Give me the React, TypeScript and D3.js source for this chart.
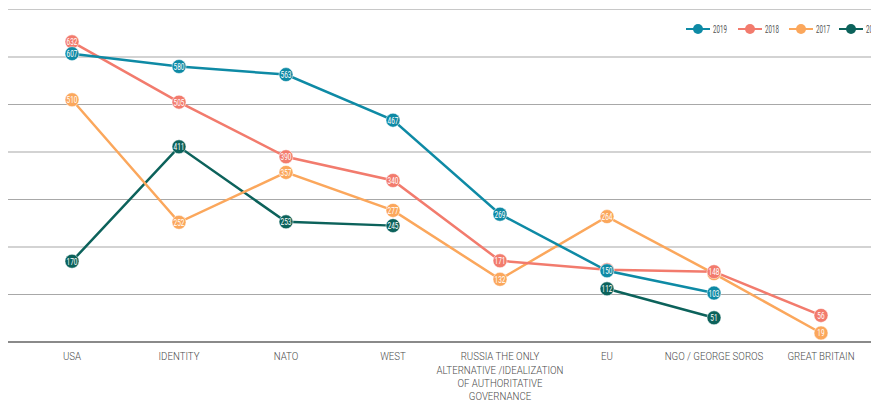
import React from "react";
import * as d3 from "d3";

const categories: string[][] = [
  ["USA"],
  ["IDENTITY"],
  ["NATO"],
  ["WEST"],
  ["RUSSIA THE ONLY", "ALTERNATIVE /IDEALIZATION", "OF AUTHORITATIVE", "GOVERNANCE"],
  ["EU"],
  ["NGO / GEORGE SOROS"],
  ["GREAT BRITAIN"],
];
const catKeys = ["USA", "IDENTITY", "NATO", "WEST", "RUSSIA", "EU", "NGO", "GB"];

const years = ["2019", "2018", "2017", "2016"];
const colors = ["#0e8aa5", "#f27b6d", "#fba75c", "#0c625b"];

const v2019: (number | null)[] = [607, 580, 563, 467, 269, 150, 103, null];
const v2018: (number | null)[] = [632, 505, 390, 340, 171, 152, 148, 56];
const v2017: (number | null)[] = [510, 252, 357, 277, 132, 264, 144, 19];
const v2016: (number | null)[] = [170, 411, 253, 245, null, 112, 51, null];
const seriesValues = [v2019, v2018, v2017, v2016];
const gridTicks = [0, 100, 200, 300, 400, 500, 600, 700];

const W = 871;
const H = 402;
const FONT = "Roboto, 'Liberation Sans', sans-serif";

export default function App() {
  const x = d3.scalePoint<string>().domain(catKeys).range([72, 821]);
  const y = d3.scaleLinear().domain([0, 700]).range([342, 9.5]);

  const drawOrder = [3, 2, 1, 0];

  return (
    <svg
      width={W}
      height={H}
      style={{ position: "absolute", left: 0, top: 0, background: "#fff" }}
      fontFamily={FONT}
    >
      {gridTicks.map((t) => (
        <line
          key={t}
          x1={8}
          x2={W}
          y1={y(t)}
          y2={y(t)}
          stroke={t === 0 ? "#8a8a8a" : t === 700 ? "#c8c8c8" : "#a8a8a8"}
          strokeWidth={t === 0 ? 2 : 1.2}
        />
      ))}

      {categories.map((lines, i) => (
        <g key={catKeys[i]} transform={`translate(${x(catKeys[i])},0) scale(0.88,1)`}>
          <text x={0} y={360.5} textAnchor="middle" fontSize={11} fontWeight={300} fill="#4a4a4a">
            {lines.map((l, j) => (
              <tspan key={j} x={0} dy={j === 0 ? 0 : 13.3}>
                {l}
              </tspan>
            ))}
          </text>
        </g>
      ))}

      {drawOrder.map((si) => {
        const vals = seriesValues[si];
        const line = d3
          .line<number | null>()
          .defined((d) => d !== null)
          .x((_, i) => x(catKeys[i]) as number)
          .y((d) => y(d as number));
        return (
          <path
            key={"l" + si}
            d={line(vals) || ""}
            fill="none"
            stroke={colors[si]}
            strokeWidth={2.5}
          />
        );
      })}

      {drawOrder.map((si) => (
        <g key={"c" + si}>
          {seriesValues[si].map((v, i) =>
            v === null ? null : (
              <g key={i} transform={`translate(${x(catKeys[i])},${y(v)})`}>
                <circle r={7} fill={colors[si]} stroke="#fff" strokeOpacity={0.5} strokeWidth={1} />
                <g transform="scale(0.68,1)">
                  <text textAnchor="middle" dy="0.36em" fontSize={9.5} fill="#fff">
                    {v}
                  </text>
                </g>
              </g>
            )
          )}
        </g>
      ))}

      {years.map((yr, i) => {
        const lx = [686, 738, 789, 839][i];
        return (
          <g key={yr}>
            <line x1={lx} x2={lx + 24} y1={29} y2={29} stroke={colors[i]} strokeWidth={2} />
            <circle cx={lx + 12} cy={29} r={5} fill={colors[i]} />
            <g transform={`translate(${lx + 27},29) scale(0.62,1)`}>
              <text x={0} y={0} dy="0.36em" fontSize={10} fill="#555">
                {yr}
              </text>
            </g>
          </g>
        );
      })}
    </svg>
  );
}
